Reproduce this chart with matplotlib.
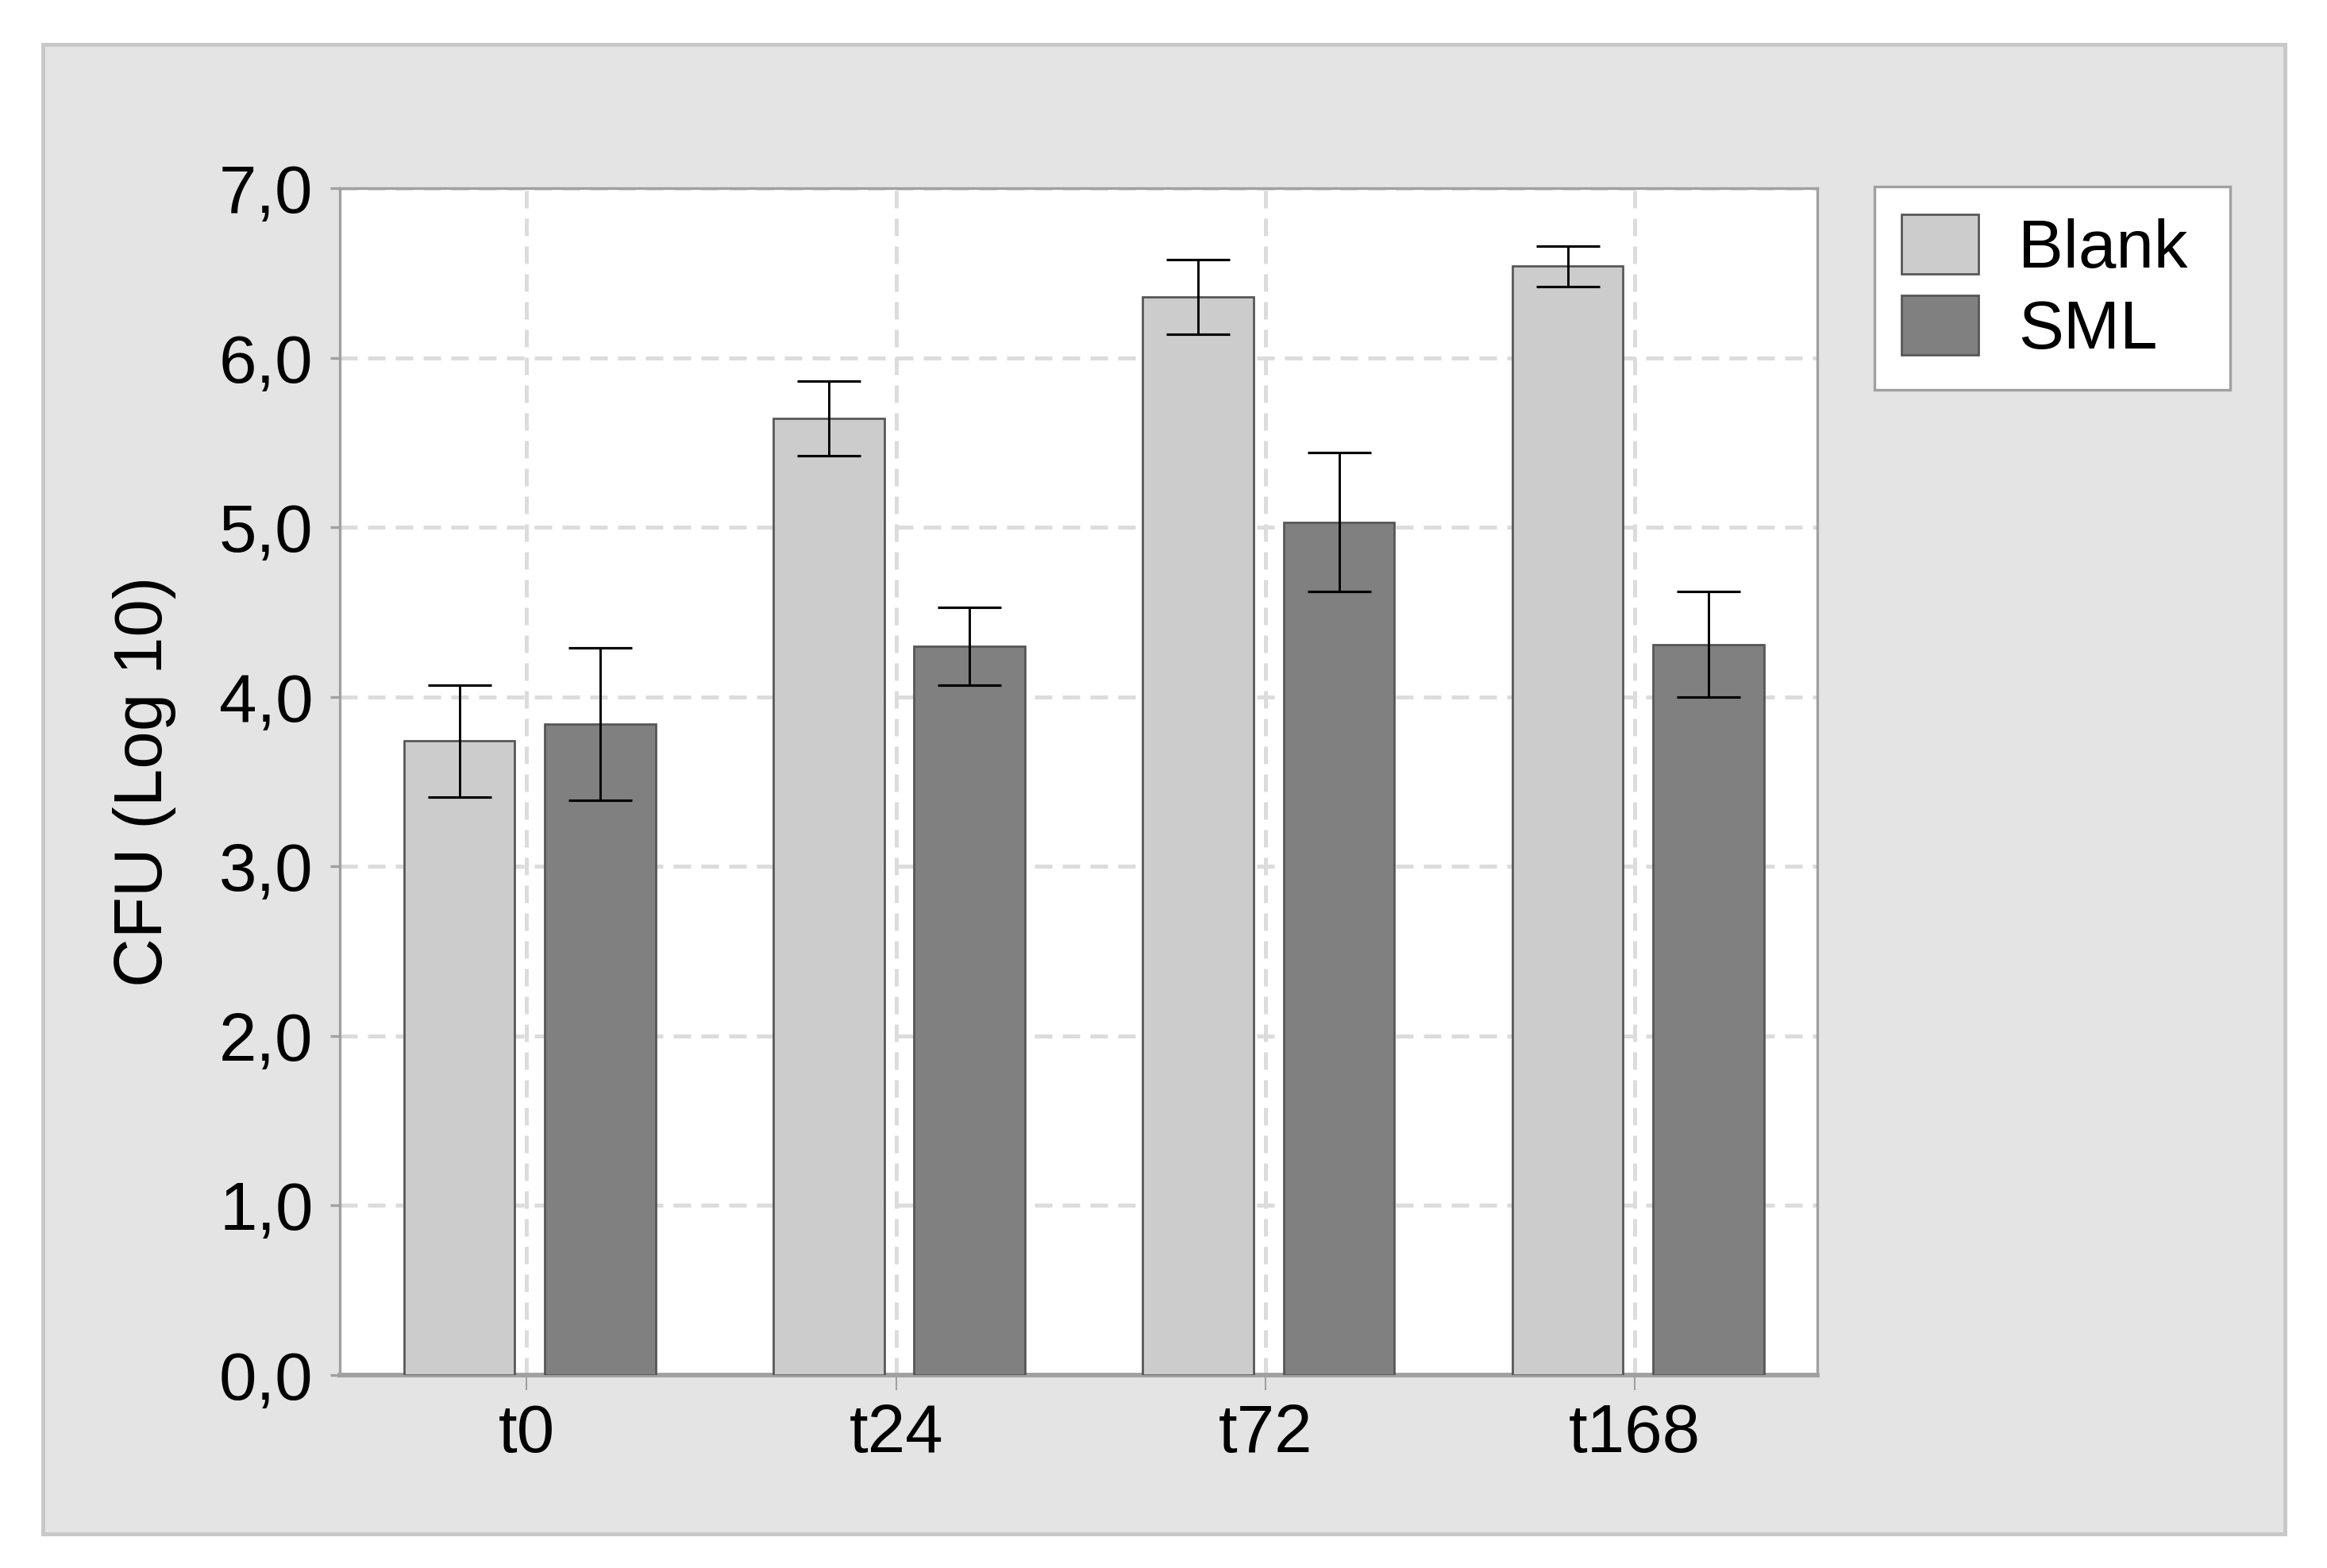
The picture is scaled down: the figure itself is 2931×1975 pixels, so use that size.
import matplotlib.pyplot as plt
import numpy as np
from matplotlib.patches import Rectangle

# data
categories = ['t0', 't24', 't72', 't168']
blank = [3.74, 5.64, 6.36, 6.54]
blank_err = [0.33, 0.22, 0.22, 0.12]
sml = [3.84, 4.30, 5.03, 4.31]
sml_err = [0.45, 0.23, 0.41, 0.31]
y_ticks = [0, 1, 2, 3, 4, 5, 6, 7]
y_ticklabels = ['0,0', '1,0', '2,0', '3,0', '4,0', '5,0', '6,0', '7,0']

plt.rcParams['font.family'] = ['Liberation Sans', 'DejaVu Sans']
fs = 20.5

fig = plt.figure(figsize=(2931 / 300, 1975 / 300), dpi=300)
fig.patch.set_facecolor('white')

# grey panel behind the chart
panel = Rectangle((0.0185, 0.0218), 0.9635, 0.9498, transform=fig.transFigure,
                  facecolor='#e4e4e4', edgecolor='#c8c8c8', linewidth=1.2, zorder=-10)
fig.add_artist(panel)

ax = fig.add_axes([0.146, 0.123, 0.635, 0.757])
ax.set_facecolor('white')

x = np.arange(len(categories))
w = 0.30
err_kw = dict(ecolor='black', elinewidth=0.7, capsize=9.5, capthick=0.75)
b1 = ax.bar(x - 0.176, blank, w, yerr=blank_err, color='#cccccc', edgecolor='#555555',
            linewidth=0.65, label='Blank', error_kw=err_kw, zorder=3)
b2 = ax.bar(x + 0.205, sml, w, yerr=sml_err, color='#808080', edgecolor='#555555',
            linewidth=0.65, label='SML', error_kw=err_kw, zorder=3)

ax.set_xlim(-0.5, 3.5)
ax.set_ylim(0, 7)
ax.set_xticks(x + 0.006)
ax.set_xticklabels(categories, fontsize=fs)
ax.set_yticks(y_ticks)
ax.set_yticklabels(y_ticklabels, fontsize=fs)

ax.set_axisbelow(True)
ax.grid(True, linestyle=(0, (4.4, 2.6)), color='#dcdcdc', linewidth=1.2)

for s in ax.spines.values():
    s.set_color('#a0a0a0')
    s.set_linewidth(0.8)
ax.spines['bottom'].set_linewidth(1.4)

ax.tick_params(axis='y', length=3, width=0.8, color='#a0a0a0', pad=5)
ax.tick_params(axis='x', length=4.5, width=0.5, color='#a0a0a0', pad=4)

ax.set_ylabel('CFU (Log 10)', fontsize=fs, labelpad=13)

leg = fig.legend(handles=[b1, b2], labels=['Blank', 'SML'], loc='upper left',
                 bbox_to_anchor=(0.8055, 0.757, 0.153, 0.1238), mode='expand',
                 bbox_transform=fig.transFigure,
                 borderaxespad=0, fontsize=fs, frameon=True, fancybox=False,
                 framealpha=1, edgecolor='#a0a0a0', handlelength=1.14, handleheight=0.98,
                 handletextpad=0.58, labelspacing=0.2, borderpad=0.4)
leg.get_frame().set_linewidth(0.8)

fig.savefig('out.png', dpi=300)
